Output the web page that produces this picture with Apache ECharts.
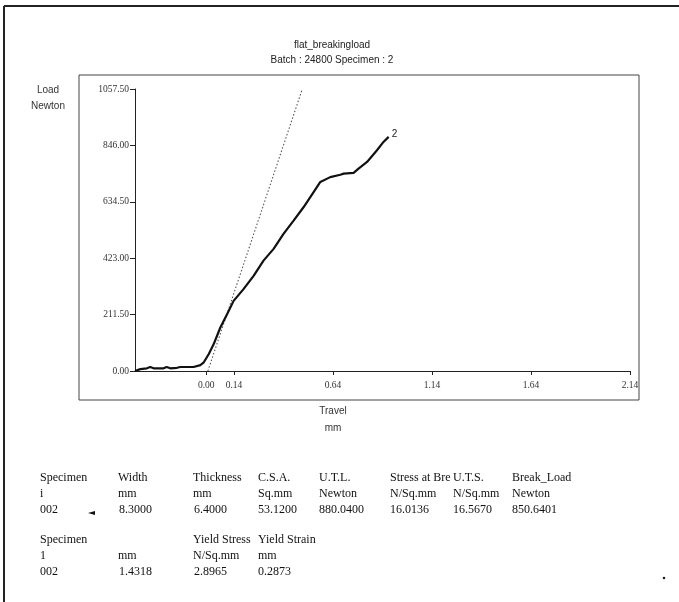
<!DOCTYPE html>
<html>
<head>
<meta charset="utf-8">
<script src="https://cdn.jsdelivr.net/npm/echarts@6/dist/echarts.min.js"></script>
<style>
html,body{margin:0;padding:0;background:#fff;}
#chart{width:679px;height:602px;}
</style>
</head>
<body>
<div id="chart"></div>
<script>
// ---- data ----
var titleText = 'flat_breakingload';
var subtitleText = 'Batch : 24800 Specimen : 2';
var yAxisName = ['Load', 'Newton'];
var xAxisName = ['Travel', 'mm'];
var xTickValues = [0, 0.14, 0.64, 1.14, 1.64, 2.14];
var xMin = -0.36, xMax = 2.14;
var yMin = 0, yMax = 1057.5, yStep = 211.5;
var travel = [-0.36,-0.333,-0.30,-0.283,-0.266,-0.216,-0.20,-0.182,-0.148,-0.131,-0.064,-0.03,-0.014,
  0.012,0.037,0.071,0.105,0.138,0.188,0.239,0.289,0.34,0.39,0.441,0.491,0.542,0.576,0.626,0.677,
  0.694,0.744,0.769,0.812,0.862,0.895,0.921];
var load = [0,7,10,15,10,10,15,10,12,15,15,22,31,
  63,100,163,213,263,307,357,414,458,514,564,614,671,709,727,736,
  740,743,759,784,828,859,878];
var slopeTravel = [0.008, 0.485];
var slopeLoad = [0, 1057.5];
var seriesLabel = '2';
var tableRows1 = [
  ['Specimen','Width','Thickness','C.S.A.','U.T.L.','Stress at Bre','U.T.S.','Break_Load'],
  ['i','mm','mm','Sq.mm','Newton','N/Sq.mm','N/Sq.mm','Newton'],
  ['002','8.3000','6.4000','53.1200','880.0400','16.0136','16.5670','850.6401']
];
var tableRows2 = [
  ['Specimen','','Yield Stress','Yield Strain'],
  ['1','mm','N/Sq.mm','mm'],
  ['002','1.4318','2.8965','0.2873']
];

// ---- layout ----
var colX = [40, 118, 193, 258, 319, 390, 453, 512];
var colOff3 = [0, 1, 1, 0, 0, 0, 0, 0];
var rowY1 = [478, 494, 510];
var rowY2 = [540, 556, 572];
var sans = '"Liberation Sans", Arial, sans-serif';
var serif = '"Liberation Serif", serif';

var graphics = [];
graphics.push({type:'line', shape:{x1:4,y1:6,x2:679,y2:6}, style:{stroke:'#222', lineWidth:2}});
graphics.push({type:'line', shape:{x1:4,y1:6,x2:4,y2:602}, style:{stroke:'#222', lineWidth:2}});
graphics.push({type:'rect', shape:{x:79,y:75,width:560,height:325}, style:{fill:'none', stroke:'#444', lineWidth:1}});
graphics.push({type:'text', x:332, y:45, style:{text:titleText, font:'10px '+sans, fill:'#222', align:'center', verticalAlign:'middle'}});
graphics.push({type:'text', x:332, y:60, style:{text:subtitleText, font:'10px '+sans, fill:'#222', align:'center', verticalAlign:'middle'}});
graphics.push({type:'text', x:48, y:90, style:{text:yAxisName[0], font:'10px '+sans, fill:'#333', align:'center', verticalAlign:'middle'}});
graphics.push({type:'text', x:48, y:106, style:{text:yAxisName[1], font:'10px '+sans, fill:'#333', align:'center', verticalAlign:'middle'}});
graphics.push({type:'text', x:333, y:411, style:{text:xAxisName[0], font:'10px '+sans, fill:'#333', align:'center', verticalAlign:'middle'}});
graphics.push({type:'text', x:333, y:428, style:{text:xAxisName[1], font:'10px '+sans, fill:'#333', align:'center', verticalAlign:'middle'}});
function addRows(rows, ys){
  rows.forEach(function(r, ri){
    r.forEach(function(t, ci){
      if(!t) return;
      graphics.push({type:'text', x:colX[ci] + (ri===2?colOff3[ci]:0), y:ys[ri],
        style:{text:t, font:'12px '+serif, fill:'#111', align:'left', verticalAlign:'middle'}});
    });
  });
}
addRows(tableRows1, rowY1);
addRows(tableRows2, rowY2);
// small marks
graphics.push({type:'polygon', shape:{points:[[88,513],[95,511],[95,515]]}, style:{fill:'#111'}});
graphics.push({type:'circle', shape:{cx:664,cy:578,r:1.3}, style:{fill:'#222'}});

var mainData = travel.map(function(x,i){return [x, load[i]];});
var slopeData = slopeTravel.map(function(x,i){return [x, slopeLoad[i]];});

var chart = echarts.init(document.getElementById('chart'));
chart.setOption({
  animation:false,
  backgroundColor:'#fff',
  grid:{left:135, right:49, top:89, bottom:231},
  xAxis:{
    type:'value', min:xMin, max:xMax,
    axisLine:{show:true, onZero:false, lineStyle:{color:'#222', width:1}},
    axisTick:{show:true, customValues:xTickValues, length:4, lineStyle:{color:'#222'}},
    axisLabel:{show:true, customValues:xTickValues, formatter:function(v){return v.toFixed(2);},
      fontFamily:serif, fontSize:9.5, color:'#333', margin:9},
    splitLine:{show:false}
  },
  yAxis:{
    type:'value', min:yMin, max:yMax, interval:yStep,
    axisLine:{show:true, onZero:false, lineStyle:{color:'#222', width:1}},
    axisTick:{show:true, length:5, lineStyle:{color:'#222'}},
    axisLabel:{formatter:function(v){return v.toFixed(2);}, fontFamily:serif, fontSize:9.5, color:'#333', margin:6},
    splitLine:{show:false}
  },
  series:[
    {type:'line', data:slopeData, symbol:'none', silent:true,
      lineStyle:{color:'#555', width:1.1, type:[1.5,2]}},
    {type:'line', data:mainData, symbol:'none', silent:true,
      lineStyle:{color:'#111', width:2.2},
      endLabel:{show:true, formatter:seriesLabel, fontFamily:sans, fontSize:10, color:'#222', distance:3, offset:[0,-3]}}
  ],
  graphic:graphics
});
</script>
</body>
</html>
